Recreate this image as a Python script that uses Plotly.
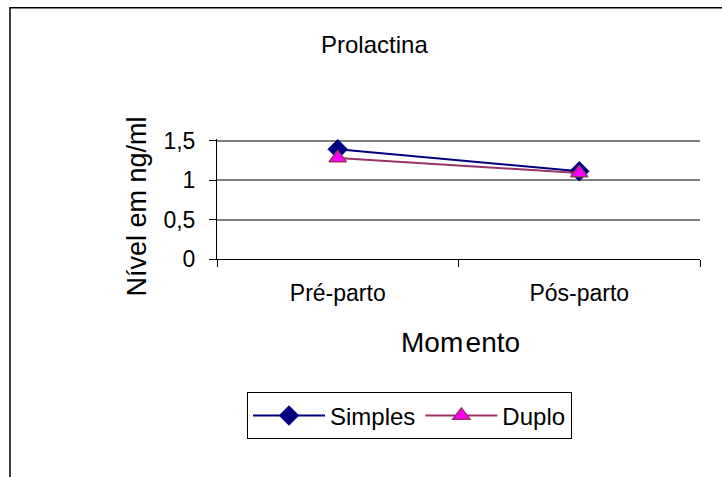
import plotly.graph_objects as go

categories = ["Pré-parto", "Pós-parto"]
simples = [1.39, 1.11]
duplo = [1.28, 1.09]
y_ticks = [0, 0.5, 1, 1.5]

W, H = 722, 477
Y_MAX = 1.52
L, R, B = 217, 700, 259.5        # plot area pixel edges
T = B - (B - 141) * Y_MAX / 1.5  # so that 1.5 lands at y=141

def px(x):
    return (x - L) / (R - L)

def py(y):
    return (B - y) / (B - T)

FONT = "Liberation Sans, Arial, sans-serif"

fig = go.Figure()
fig.add_trace(go.Scatter(
    x=categories, y=simples, name="Simples", mode="lines+markers",
    line=dict(color="#000080", width=2),
    marker=dict(symbol="diamond", size=15, color="#000080",
                line=dict(color="#000080", width=1)),
))
fig.add_trace(go.Scatter(
    x=categories, y=duplo, name="Duplo", mode="lines+markers",
    line=dict(color="#993366", width=2),
    marker=dict(symbol="triangle-up", size=15, color="#FF00FF",
                line=dict(color="#993366", width=1.5)),
))

fig.update_layout(
    width=W, height=H,
    margin=dict(l=L, r=W - R, t=T, b=H - B, pad=0),
    paper_bgcolor="white", plot_bgcolor="white",
    separators=",.",
    font=dict(family=FONT, color="black"),
    showlegend=True,
    legend=dict(
        orientation="h", x=px(247), xanchor="left",
        y=py(393), yanchor="top",
        bordercolor="black", borderwidth=1, bgcolor="white",
        font=dict(size=24, family=FONT),
        itemwidth=72, entrywidth=0,
    ),
    xaxis=dict(
        type="category", tickson="boundaries",
        showline=True, linecolor="black", linewidth=1,
        ticks="outside", ticklen=7, tickcolor="black", tickwidth=1,
        showgrid=False, tickfont=dict(size=23),
        ticklabelstandoff=13,
        range=[-0.5, 1.5], fixedrange=True,
    ),
    yaxis=dict(
        range=[0, Y_MAX], tickvals=y_ticks,
        showline=True, linecolor="black", linewidth=1,
        ticks="outside", ticklen=7, tickcolor="black", tickwidth=1,
        showgrid=True, gridcolor="#808080", gridwidth=1.5,
        zeroline=False, tickfont=dict(size=23),
        ticklabelstandoff=9,
    ),
    shapes=[
        dict(type="rect", xref="paper", yref="paper",
             x0=px(10), x1=px(740), y0=py(500), y1=py(8),
             line=dict(color="black", width=1.5), fillcolor="rgba(0,0,0,0)",
             layer="below"),
    ],
    annotations=[
        dict(text="Prolactina", xref="paper", yref="paper",
             x=px(374), y=py(45), xanchor="center", yanchor="middle",
             showarrow=False, font=dict(size=24, family=FONT)),
        dict(text="Nível em ng/ml", xref="paper", yref="paper",
             x=px(137), y=py(207), xanchor="center", yanchor="middle",
             textangle=-90, showarrow=False, font=dict(size=27, family=FONT)),
        dict(text="Mom\u200aento", xref="paper", yref="paper",
             x=px(460), y=py(343), xanchor="center", yanchor="middle",
             showarrow=False, font=dict(size=28, family=FONT)),
    ],
)

fig.write_html("out.html")
